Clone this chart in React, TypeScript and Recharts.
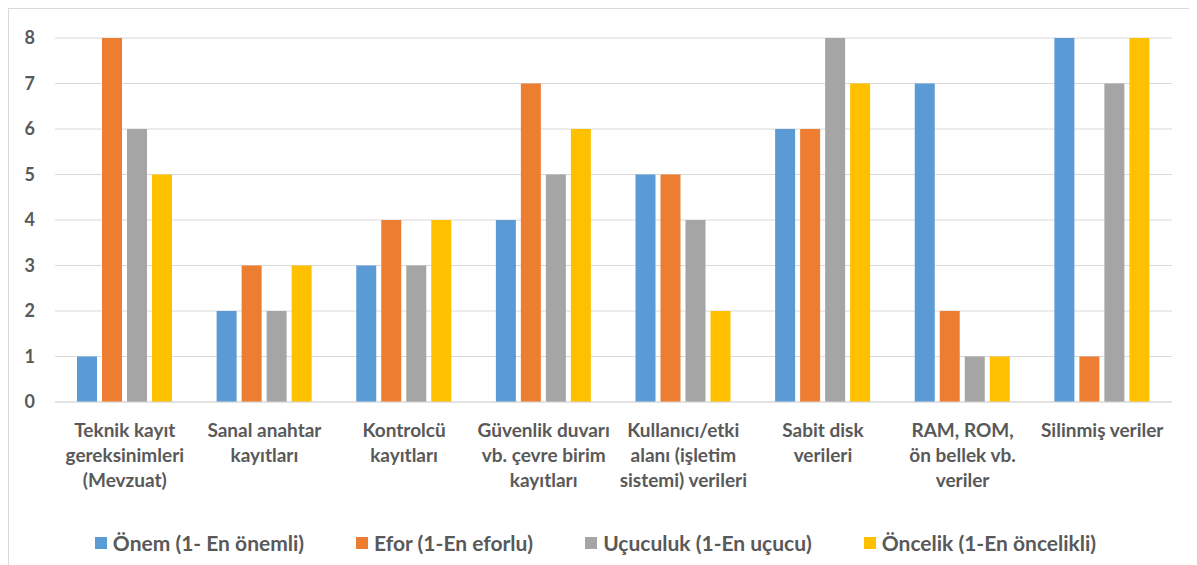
import { BarChart, Bar, XAxis, YAxis, CartesianGrid, Legend } from 'recharts'

const TEXT = '#595959'
const GRID = '#d9d9d9'
const FONT = 'Lato, "Open Sans", sans-serif'

const categories = [
  'Teknik kayıt\ngereksinimleri\n(Mevzuat)',
  'Sanal anahtar\nkayıtları',
  'Kontrolcü\nkayıtları',
  'Güvenlik duvarı\nvb. çevre birim\nkayıtları',
  'Kullanıcı/etki\nalanı (işletim\nsistemi) verileri',
  'Sabit disk\nverileri',
  'RAM, ROM,\nön bellek vb.\nveriler',
  'Silinmiş veriler',
]

const onem = [1, 2, 3, 4, 5, 6, 7, 8]
const efor = [8, 3, 4, 7, 5, 6, 2, 1]
const ucuculuk = [6, 2, 3, 5, 4, 8, 1, 7]
const oncelik = [5, 3, 4, 6, 2, 7, 1, 8]

const yTicks = [0, 1, 2, 3, 4, 5, 6, 7, 8]

const series = [
  { key: 'onem', name: 'Önem (1- En önemli)', color: '#5B9BD5', values: onem },
  { key: 'efor', name: 'Efor (1-En eforlu)', color: '#ED7D31', values: efor },
  { key: 'ucuculuk', name: 'Uçuculuk (1-En uçucu)', color: '#A5A5A5', values: ucuculuk },
  { key: 'oncelik', name: 'Öncelik (1-En öncelikli)', color: '#FFC000', values: oncelik },
]

const data = categories.map((cat, i) => {
  const row: Record<string, string | number> = { cat }
  for (const s of series) row[s.key] = s.values[i]
  return row
})

function CategoryTick({ x, y, payload }: any) {
  const lines = String(payload.value).split('\n')
  return (
    <text x={x} y={y} textAnchor="middle" fill={TEXT} fontSize={19} fontWeight={700} fontFamily={FONT}>
      {lines.map((line, i) => (
        <tspan key={i} x={x} dy={i === 0 ? 27 : 25}>{line}</tspan>
      ))}
    </text>
  )
}

function LegendRow() {
  return (
    <div style={{ display: 'flex', justifyContent: 'center', gap: 52, paddingTop: 0, paddingLeft: 10, height: 47, boxSizing: 'border-box' }}>
      {series.map(s => (
        <div key={s.key} style={{ display: 'flex', alignItems: 'center', gap: 6, color: TEXT, fontFamily: FONT, fontWeight: 700, fontSize: 21, lineHeight: '24px' }}>
          <span style={{ display: 'inline-block', width: 12, height: 12, background: s.color }} />
          {s.name}
        </div>
      ))}
    </div>
  )
}

export default function App() {
  return (
    <div style={{ width: 1190, height: 565, border: `1px solid ${GRID}`, boxSizing: 'border-box', background: '#fff' }}>
      <BarChart
        width={1188}
        height={557}
        data={data}
        margin={{ top: 29, right: 25, left: 0, bottom: 0 }}
        barCategoryGap={22}
        barGap={5}
      >
        <CartesianGrid vertical={false} stroke={GRID} />
        <XAxis
          dataKey="cat"
          interval={0}
          height={117}
          tickLine={false}
          axisLine={{ stroke: GRID }}
          tick={<CategoryTick />}
        />
        <YAxis
          domain={[0, 8]}
          ticks={yTicks}
          width={46}
          tickLine={false}
          axisLine={false}
          tickMargin={14}
          tick={{ fill: TEXT, fontSize: 18, fontWeight: 700, fontFamily: FONT }}
        />
        <Legend verticalAlign="bottom" content={<LegendRow />} />
        {series.map(s => (
          <Bar key={s.key} dataKey={s.key} name={s.name} fill={s.color} isAnimationActive={false} />
        ))}
      </BarChart>
    </div>
  )
}
